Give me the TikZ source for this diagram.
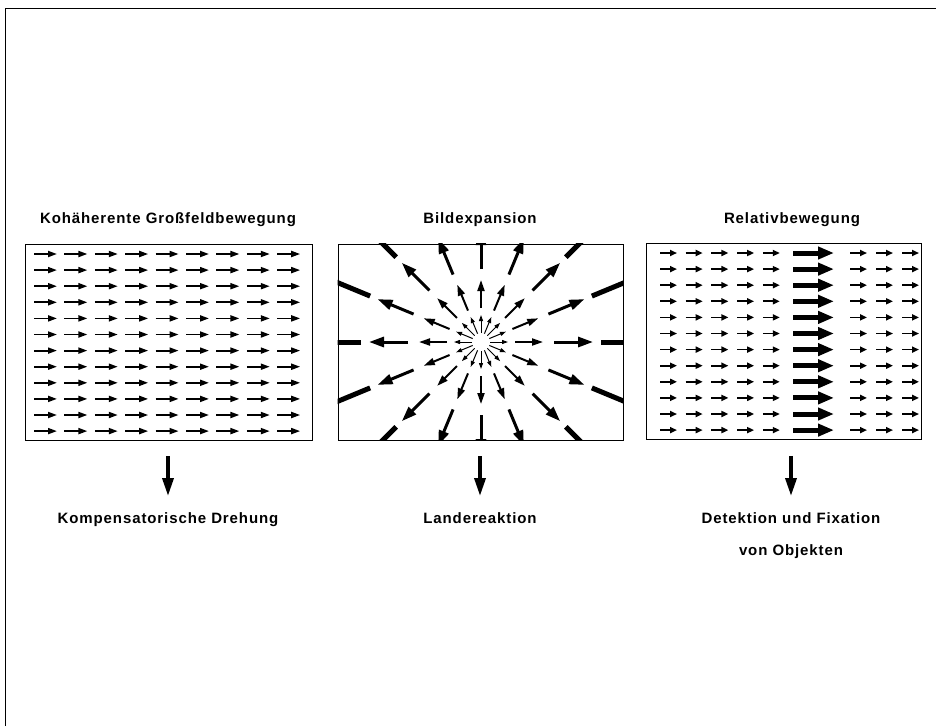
\documentclass[tikz,border=0pt]{standalone}
\usepackage{fontspec}
\usepackage{tikz}
\usetikzlibrary{arrows.meta,positioning,calc}
\newfontfamily\tafelfont{Liberation Sans}[LetterSpace=6]

\begin{document}
\begin{tikzpicture}[
    x=1pt, y=-1pt,
    feld/.style={rectangle, draw, line width=0.8pt, minimum width=#1, minimum height=196pt, inner sep=0pt},
    titel/.style={anchor=base, inner sep=0pt, font=\tafelfont\bfseries\fontsize{15}{32}\selectfont},
    antwort/.style={anchor=north, inner sep=0pt, align=center, font=\tafelfont\bfseries\fontsize{15}{32}\selectfont},
    reaktion/.style={-{Triangle[length=18pt, width=11pt]}, line width=3.5pt, shorten <=16pt, shorten >=16pt},
    feldpfeil/.style={-{Triangle[length=9pt, width=6pt]}, line width=1.8pt},
    kleinpfeil/.style={-{Triangle[length=7pt, width=6pt]}, line width=1.7pt},
    grosspfeil/.style={-{Triangle[length=16pt, width=12pt]}, line width=5pt}
]
    \useasboundingbox (0,0) rectangle (936,726);

    % page frame
    \draw[line width=0.8pt] (5,726) -- (5,8) -- (936,8);

    % Titles
    \node[titel] (titelA) at (168,223) {Kohäherente Großfeldbewegung};
    \node[titel] (titelB) at (480,223) {Bildexpansion};
    \node[titel] (titelC) at (792,223) {Relativbewegung};

    % Fields
    \node[feld=287pt] (feldA) at (168.5,342) {};
    \node[feld=285pt] (feldB) at (480.5,342) {};
    \node[feld=275pt] (feldC) at (783.5,341.5) {};

    % coherent large-field motion
    \foreach \i in {0,...,8}
        \foreach \j in {0,...,11}
            \draw[feldpfeil] ({34+30.4*\i},{254+16.1*\j}) -- ++(23,0);

    % image expansion
    \coordinate (mitte) at (481,342);
    \begin{scope}
        \clip (feldB.south west) rectangle (feldB.north east);
        \begin{scope}[shift={(mitte)}]
            \foreach \a in {0,22.5,...,337.5} {
                \draw[-{Triangle[length=6pt, width=4pt]}, line width=1pt] (\a:9) -- (\a:27);
                \draw[-{Triangle[length=11pt, width=7pt]}, line width=2pt] (\a:34) -- (\a:62);
                \draw[-{Triangle[length=15pt, width=10pt]}, line width=3pt] (\a:73) -- (\a:112);
                \draw[-{Triangle[length=20pt, width=13pt]}, line width=5pt] (\a:120) -- (\a:180);
            }
        \end{scope}
    \end{scope}

    % relative motion
    \foreach \j in {0,...,11} {
        \foreach \i in {0,...,4}
            \draw[kleinpfeil] ({660+25.7*\i},{253+16.1*\j}) -- ++(17,0);
        \foreach \i in {0,...,2}
            \draw[kleinpfeil] ({850+26*\i},{253+16.1*\j}) -- ++(17,0);
        \draw[grosspfeil] (793,{253+16.1*\j}) -- ++(41,0);
    }

    % Responses
    \node[antwort] (drehung) at (168,512) {Kompensatorische Drehung};
    \node[antwort] (landung) at (480,512) {Landereaktion};
    \node[antwort] (fixation) at (791,512) {Detektion und Fixation\\von Objekten};

    \draw[reaktion] (feldA.south -| drehung.north) -- (drehung.north);
    \draw[reaktion] (feldB.south -| landung.north) -- (landung.north);
    \draw[reaktion] (feldC.south -| fixation.north) -- (fixation.north);
\end{tikzpicture}
\end{document}
